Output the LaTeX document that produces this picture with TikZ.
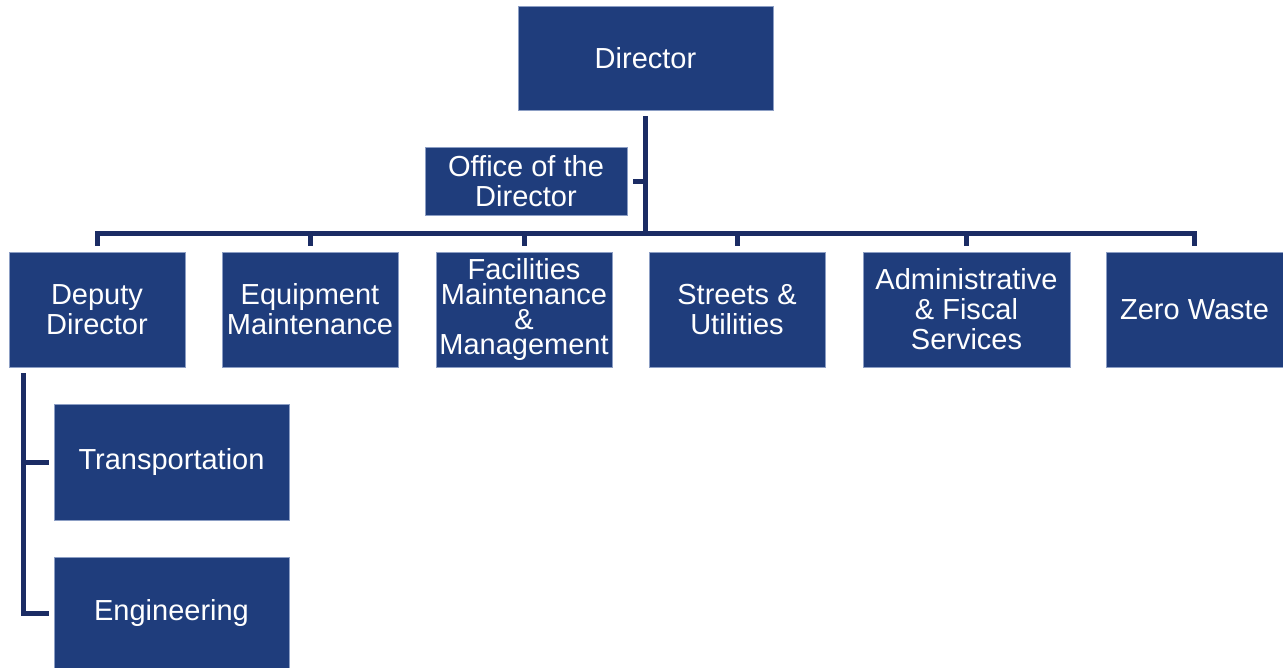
\documentclass[tikz,border=0pt]{standalone}
\usepackage{fontspec}
\setmainfont{Liberation Sans}
\definecolor{boxblue}{RGB}{31,61,124}
\definecolor{boxedge}{RGB}{140,158,196}
\definecolor{linenavy}{RGB}{27,44,100}
\begin{document}
\begin{tikzpicture}[x=1pt,y=1pt,
  box/.style={rectangle, fill=boxblue, draw=boxedge, line width=0.7pt, text=white,
    font=\fontsize{29}{30}\selectfont, align=center, inner sep=0pt},
  conn/.style={draw=linenavy, line width=5pt, line join=miter}]
\useasboundingbox (0,0) rectangle (1283,-667);
\node[box, minimum width=255, minimum height=104] (dir) at (645.5,-58) {Director};
\node[box, minimum width=202, minimum height=68] (off) at (526,-181) {Office of the\\Director};
\node[box, minimum width=176, minimum height=115] (dep) at (97,-309.5) {Deputy\\Director};
\node[box, minimum width=176, minimum height=115] (eq) at (310,-309.5) {Equipment\\Maintenance};
\node[box, minimum width=176, minimum height=115, font=\fontsize{29}{25}\selectfont] (fac) at (524,-309.5) {Facilities\\Maintenance\\\&\\Management};
\node[box, minimum width=176, minimum height=115] (st) at (737,-309.5) {Streets \&\\Utilities};
\node[box, minimum width=207, minimum height=115] (adm) at (966.5,-309.5) {Administrative\\\& Fiscal\\Services};
\node[box, minimum width=177, minimum height=115] (zw) at (1194.5,-309.5) {Zero Waste};
\node[box, minimum width=235, minimum height=116] (tr) at (171.5,-462) {Transportation};
\node[box, minimum width=235, minimum height=112] (eng) at (171.5,-613) {Engineering};
\coordinate (bus) at (0,-234);
\coordinate (trunk) at ([xshift=15pt,yshift=-6pt]dep.south west);
% director to bus
\draw[conn] ([yshift=-6pt]dir.south) -- (dir.south |- bus);
% office
\draw[conn] ([xshift=6pt]off.east) -- (off.east -| dir.south);
% bus
\draw[conn] ([yshift=6pt]dep.north) |- ([yshift=18pt]zw.north) -- ([yshift=6pt]zw.north);
\foreach \n in {eq,fac,st,adm}
  \draw[conn] ([yshift=6pt]\n.north) -- (\n.north |- bus);
% deputy subtree
\draw[conn] (trunk) |- ([xshift=-5pt]eng.west);
\draw[conn] (trunk |- tr.west) -- ([xshift=-5pt]tr.west);
\end{tikzpicture}
\end{document}
